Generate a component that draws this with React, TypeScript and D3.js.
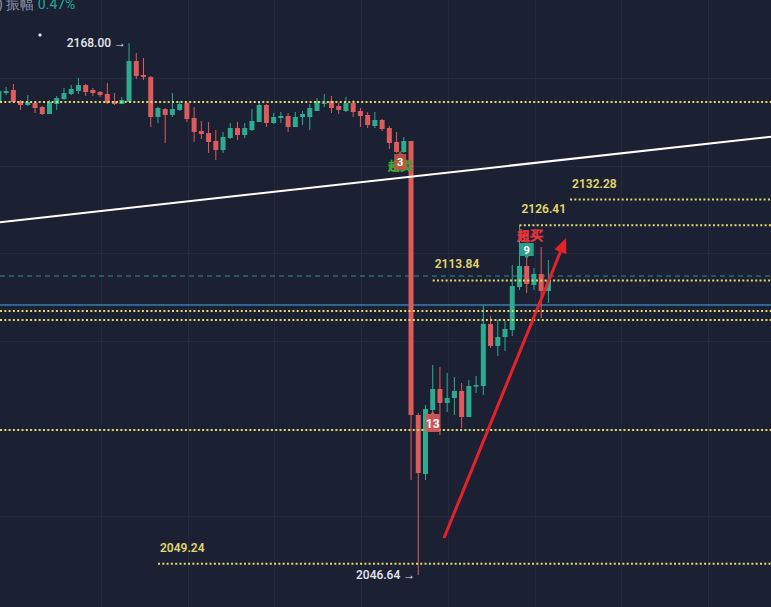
import React from "react";
import * as d3 from "d3";

const W = 771;
const H = 607;

// OHLC per candle (index 0..76)
const opens = [2154.31,2156.59,2157.28,2154.77,2153.86,2154.31,2153.40,2151.80,2154.08,2155.22,2156.37,2157.05,2158.42,2157.28,2156.82,2156.37,2154.77,2154.08,2154.54,2163.89,2160.70,2160.24,2151.12,2152.94,2151.58,2152.72,2154.31,2150.89,2147.93,2147.47,2145.65,2143.59,2146.33,2148.61,2147.01,2148.15,2149.98,2153.86,2149.75,2150.89,2151.35,2148.84,2151.12,2151.12,2152.49,2154.08,2154.77,2153.63,2152.49,2154.31,2152.49,2151.58,2149.07,2150.44,2148.61,2145.42,2143.14,2145.65,2083.15,2069.69,2084.29,2089.08,2085.89,2087.03,2088.62,2082.69,2089.64,2089.76,2103.90,2098.89,2100.94,2102.53,2112.34,2117.13,2112.80,2115.31,2111.43];
const highs = [2157.51,2157.96,2158.65,2155.00,2156.14,2154.77,2153.63,2155.00,2155.91,2157.74,2158.42,2160.02,2158.65,2157.74,2157.05,2158.88,2156.59,2155.68,2168.00,2165.72,2164.58,2160.47,2153.40,2153.17,2156.59,2154.77,2154.54,2153.40,2150.21,2149.98,2148.15,2147.70,2149.75,2149.98,2149.75,2152.94,2154.77,2154.08,2152.03,2152.26,2152.03,2152.26,2152.49,2154.08,2155.45,2156.37,2155.91,2154.31,2155.68,2155.00,2153.17,2152.26,2152.26,2150.66,2149.07,2147.70,2146.56,2145.65,2083.60,2085.43,2094.55,2094.10,2092.73,2091.81,2090.44,2091.13,2092.04,2108.24,2105.73,2104.82,2104.59,2117.36,2126.41,2119.19,2116.68,2121.47,2118.50];
const lows = [2153.86,2156.14,2154.31,2152.72,2153.63,2152.03,2151.58,2151.80,2152.72,2155.00,2156.14,2156.37,2155.91,2155.91,2155.68,2154.08,2153.86,2154.08,2154.54,2159.79,2159.56,2148.84,2149.75,2145.19,2151.12,2152.49,2149.98,2145.42,2146.10,2142.91,2141.31,2142.91,2146.10,2145.87,2146.33,2147.93,2149.98,2148.84,2149.52,2149.75,2147.70,2148.84,2149.30,2148.15,2152.49,2153.40,2152.03,2151.80,2152.26,2151.12,2148.84,2148.61,2148.61,2147.93,2143.82,2142.91,2142.91,2068.32,2046.64,2068.32,2082.69,2078.58,2083.83,2083.15,2080.18,2082.69,2088.17,2087.71,2098.43,2096.61,2097.75,2101.17,2111.66,2110.97,2111.66,2105.27,2108.69];
const closes = [2157.05,2157.05,2154.54,2153.86,2154.54,2153.17,2151.80,2154.54,2155.45,2156.59,2157.51,2158.42,2156.82,2156.59,2156.14,2154.31,2154.08,2155.00,2163.89,2160.47,2160.24,2151.12,2153.17,2151.58,2152.94,2154.08,2150.66,2147.70,2147.24,2145.42,2143.59,2146.56,2148.61,2147.01,2148.61,2150.21,2153.86,2149.75,2151.12,2151.35,2148.84,2151.12,2151.80,2153.17,2154.77,2154.31,2153.17,2152.72,2154.31,2152.26,2151.35,2149.30,2150.44,2148.38,2145.19,2143.14,2145.65,2083.15,2069.92,2084.52,2089.08,2085.89,2087.03,2088.62,2082.69,2089.76,2089.99,2103.90,2098.89,2100.94,2102.76,2112.57,2117.13,2113.03,2115.31,2111.43,2113.94];

// horizontal dotted levels: price and starting candle index (null = from left edge)
const levelPrices = [2154.54, 2132.28, 2126.41, 2113.84, 2106.87, 2104.82, 2079.72, 2049.24];
const levelStarts = [null, 79.0, 72.0, 60.0, null, null, null, 22.0];
const levelLabels = ["", "2132.28", "2126.41", "2113.84", "", "", "", "2049.24"];

const bluePrice = 2108.24;
const lastPrice = 2114.85;

const gridPrices = [2160, 2140, 2120, 2100, 2080, 2060];
const gridIdx = [14.1, 26.1, 38.1, 50.1, 62.1, 74.1, 86.1, 98.1];

const trendIdx = [0.15, 106.8];
const trendPrice = [2127.12, 2146.63];

const arrowIdx = [61.56, 78.44];
const arrowPrice = [2055.09, 2123.52];

const highLabel = "2168.00";
const lowLabel = "2046.64";
const highIndex = 18;
const lowIndex = 58;

const BG = "#1b2133";
const UP = "#2eab8e";
const DOWN = "#dd5b5b";
const YEL = "#e3d86c";
const FONT = "Roboto, 'Noto Sans', sans-serif";

export default function App() {
  const x = d3.scaleLinear().domain([0, 76]).range([-1.1, 548.4]);
  const y = d3.scaleLinear().domain([2039.35, 2177.81]).range([H, 0]);
  const bw = 5;

  const trendLine = d3.line<number>()
    .x((_, i) => x(trendIdx[i]))
    .y((_, i) => y(trendPrice[i]));

  // arrow geometry
  const ax0 = x(arrowIdx[0]), ay0 = y(arrowPrice[0]);
  const ax1 = x(arrowIdx[1]), ay1 = y(arrowPrice[1]);
  const ang = Math.atan2(ay1 - ay0, ax1 - ax0);
  const headL = 15, headW = 6.5;
  const bx = ax1 - headL * Math.cos(ang), by = ay1 - headL * Math.sin(ang);
  const px = -Math.sin(ang), py = Math.cos(ang);
  const head = `M${ax1},${ay1}L${bx + px * headW},${by + py * headW}L${bx - px * headW},${by - py * headW}Z`;

  const m3x = (x(55) + x(56)) / 2;
  const m3y = y(lows[56]) + 8;
  const m13x = x(60);
  const m13y = y(lows[60]) - 3;
  const m9x = x(73);
  const m9y = y(highs[73]) - 12;

  return (
    <svg width={W} height={H} style={{ position: "fixed", left: 0, top: 0, background: BG }} fontFamily={FONT}>
      <rect x={0} y={0} width={W} height={H} fill={BG} />
      {gridPrices.map((p) => (
        <line key={"gy" + p} x1={0} x2={W} y1={Math.round(y(p)) + 0.5} y2={Math.round(y(p)) + 0.5} stroke="#232a3e" strokeWidth={1} />
      ))}
      {gridIdx.map((g) => (
        <line key={"gx" + g} x1={Math.round(x(g)) + 0.5} x2={Math.round(x(g)) + 0.5} y1={0} y2={H} stroke="#232a3e" strokeWidth={1} />
      ))}

      {/* last price dashed line */}
      <line x1={0} x2={W} y1={y(lastPrice)} y2={y(lastPrice)} stroke="#3aa7a0" strokeWidth={1} strokeDasharray="5 4" opacity={0.8} />
      {/* blue line */}
      <line x1={0} x2={W} y1={y(bluePrice)} y2={y(bluePrice)} stroke="#4aa8e8" strokeWidth={1} />

      {/* candles */}
      {opens.map((o, i) => {
        const c = closes[i];
        const up = c >= o;
        const col = up ? UP : DOWN;
        const cx = x(i);
        const top = y(Math.max(o, c));
        const bot = y(Math.min(o, c));
        return (
          <g key={i}>
            <line x1={cx} x2={cx} y1={y(highs[i])} y2={y(lows[i])} stroke={col} strokeWidth={1} />
            <rect x={cx - bw / 2} y={top} width={bw} height={Math.max(1, bot - top)} fill={col} />
          </g>
        );
      })}

      {/* dotted levels */}
      {levelPrices.map((p, i) => {
        const sx = levelStarts[i] === null ? 0 : x(levelStarts[i] as number);
        const ly = y(p);
        return (
          <g key={"lv" + i}>
            <line x1={sx} x2={W} y1={ly} y2={ly} stroke={YEL} strokeWidth={2} strokeDasharray="2 2.3" />
            {levelLabels[i] && (
              <text x={sx + 2} y={ly - 12} fill={YEL} fontSize={12} fontWeight={600}>{levelLabels[i]}</text>
            )}
          </g>
        );
      })}

      {/* trend line */}
      <path d={trendLine([0, 1]) || ""} stroke="#ffffff" strokeWidth={2} fill="none" />

      {/* markers */}
      <text x={m3x} y={m3y + 9} textAnchor="middle" fontSize={12} fill="none" stroke="#3fa33a" strokeWidth={0.9}>超卖</text>
      <path d={`M${m3x - 6},${m3y - 7}h4l2,-3l2,3h4v16h-12Z`} fill="#c0583f" opacity={0.9} />
      <text x={m3x} y={m3y + 5} textAnchor="middle" fontSize={11} fontWeight={700} fill="#fff">3</text>

      <path d={`M${m13x - 7},${m13y}h5l2,-3l2,3h5v18h-14Z`} fill="#d4565a" opacity={0.95} />
      <text x={m13x} y={m13y + 14} textAnchor="middle" fontSize={12} fontWeight={700} fill="#fff">13</text>

      <text x={m9x + 3} y={m9y - 5} textAnchor="middle" fontSize={13} fill="none" stroke="#e0353a" strokeWidth={1}>超买</text>
      <path d={`M${m9x - 7},${m9y - 2}h14v13h-5l-2,3l-2,-3h-5Z`} fill="#2f9e8a" />
      <text x={m9x} y={m9y + 9} textAnchor="middle" fontSize={11} fontWeight={700} fill="#fff">9</text>

      {/* red arrow */}
      <line x1={ax0} y1={ay0} x2={bx} y2={by} stroke="#e4222a" strokeWidth={3} />
      <path d={head} fill="#e4222a" />

      {/* high / low labels */}
      <text x={x(highIndex) - 3} y={y(highs[highIndex]) + 4} textAnchor="end" fontSize={12} fontWeight={500} fill="#e6e8ee">{highLabel + " →"}</text>
      <text x={x(lowIndex) - 3} y={y(lows[lowIndex]) + 4} textAnchor="end" fontSize={12} fontWeight={500} fill="#e6e8ee">{lowLabel + " →"}</text>

      {/* top info text (cut) */}
      <text x={-2} y={9} fontSize={14} fill="#8a92a6">) 振幅 <tspan fill="#26a69a">0.47%</tspan></text>
      <path d="M40,33l2,2l-2,2l-2,-2Z" fill="#e6e8ee" />
    </svg>
  );
}
